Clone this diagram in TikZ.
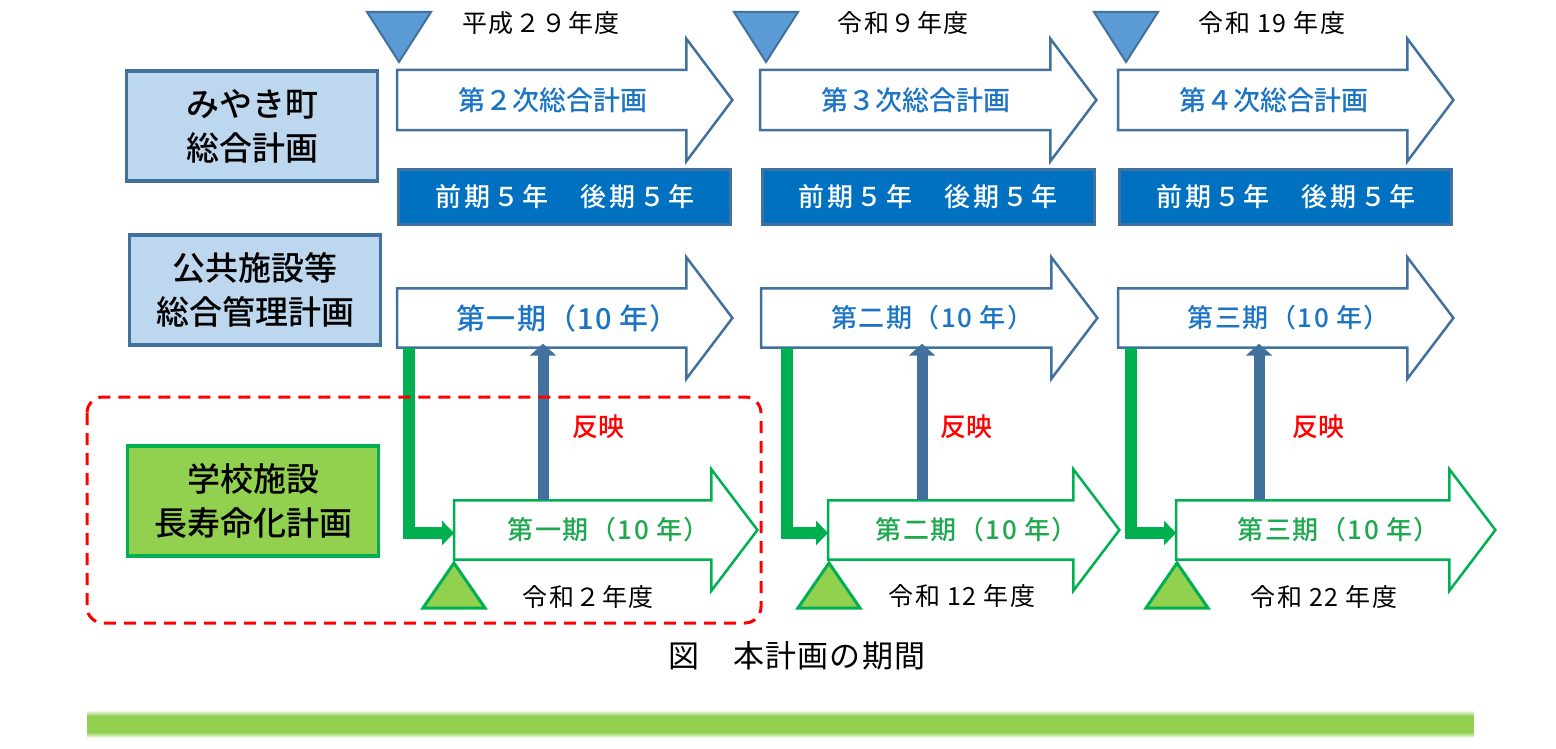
\documentclass[tikz,border=0pt]{standalone}
\usepackage{fontspec}
\setmainfont{Noto Sans CJK JP}
\newfontfamily\cjkmedium{Noto Sans CJK JP Medium}
\usetikzlibrary{positioning,arrows.meta}

\definecolor{lineblue}{HTML}{41719C}
\definecolor{textblue}{HTML}{1C74C4}
\definecolor{darkblue}{HTML}{0070C0}
\definecolor{paleblue}{HTML}{BDD7EE}
\definecolor{markblue}{HTML}{5B9BD5}
\definecolor{leafgreen}{HTML}{92D050}
\definecolor{deepgreen}{HTML}{00B050}
\definecolor{textgreen}{HTML}{1FA84F}

% outline of a block arrow round a named node
\newcommand{\periodarrow}[2]{\draw[#2] (#1.south west) -- (#1.north west) -- ([xshift=-46pt]#1.north east) -- ([xshift=-46pt,yshift=31pt]#1.north east) -- (#1.east) -- ([xshift=-46pt,yshift=-31pt]#1.south east) -- ([xshift=-46pt]#1.south east) -- cycle;}

\begin{document}
\begin{tikzpicture}[x=1pt, y=-1pt,
    heading/.style = {draw=lineblue, line width=3.5pt, fill=paleblue, minimum width=251pt, minimum height=110pt, align=center, font=\cjkmedium\fontsize{33}{44}\selectfont},
    schoolbox/.style = {heading, draw=deepgreen, fill=leafgreen},
    arrowtext/.style = {anchor=west, inner sep=0pt, text=textblue},
    plan/.style = {arrowtext, minimum height=60pt, font=\cjkmedium\fontsize{27}{30}\selectfont, execute at begin node={\kern-24pt}},
    phase/.style = {arrowtext, minimum height=59pt, font=\cjkmedium\fontsize{26}{30}\selectfont\addfontfeature{LetterSpace=6}, execute at begin node={\kern6pt}},
    termbox/.style = {draw=lineblue, line width=3pt, fill=darkblue, text=white, minimum width=332pt, minimum height=55pt, font=\cjkmedium\fontsize{26}{30}\selectfont\addfontfeature{LetterSpace=12}},
    year/.style = {font=\fontsize{25}{30}\selectfont\addfontfeature{LetterSpace=6}},
    mirror/.style = {text=red, font=\cjkmedium\fontsize{26}{30}\selectfont},
    caption/.style = {font=\fontsize{31}{36}\selectfont\addfontfeature{LetterSpace=4}},
    blueline/.style = {draw=lineblue, line width=2.5pt},
    greenline/.style = {draw=deepgreen, line width=2.5pt},
    launch/.style = {draw=deepgreen, line width=12pt, -{Triangle[length=12pt,width=24pt]}},
    feedback/.style = {draw=lineblue, line width=11pt, -{Triangle[length=12pt,width=26pt]}},
    downmark/.style = {fill=markblue, draw=lineblue, line width=2pt},
    upmark/.style = {fill=leafgreen, draw=deepgreen, line width=3pt}]
    \useasboundingbox (0,0) rectangle (1556,749);

    % plans on the left
    \node[heading] (town) at (252,126) {みやき町\\総合計画};
    \node[heading] (facility) at (255,290) {公共施設等\\総合管理計画};
    \node[schoolbox] (school) at (253,501) {学校施設\\長寿命化計画};

    % comprehensive plan
    \node[plan, minimum width=335pt] (plan2) at (397,100) {第２次総合計画};
    \node[plan, minimum width=336pt] (plan3) at (760,100) {第３次総合計画};
    \node[plan, minimum width=335pt] (plan4) at (1118,100) {第４次総合計画};
    \periodarrow{plan2}{blueline}
    \periodarrow{plan3}{blueline}
    \periodarrow{plan4}{blueline}

    \node[termbox, below=37.5pt of plan2] (term2) {前期５年　後期５年};
    \node[termbox, below=37.5pt of plan3] (term3) {前期５年　後期５年};
    \node[termbox, below=37.5pt of plan4] (term4) {前期５年　後期５年};

    % management plan
    \node[phase, minimum width=335pt, font=\cjkmedium\fontsize{29}{32}\selectfont\addfontfeature{LetterSpace=4}] (mgmt1) at (397,318) {第一期（10 年）};
    \node[phase, minimum width=336pt] (mgmt2) at (761,318) {第二期（10 年）};
    \node[phase, minimum width=335pt] (mgmt3) at (1118,318) {第三期（10 年）};
    \periodarrow{mgmt1}{blueline}
    \periodarrow{mgmt2}{blueline}
    \periodarrow{mgmt3}{blueline}

    % school plan
    \node[phase, text=textgreen, minimum width=303pt] (life1) at (454,530) {第一期（10 年）};
    \node[phase, text=textgreen, minimum width=291pt] (life2) at (828,530) {第二期（10 年）};
    \node[phase, text=textgreen, minimum width=319pt] (life3) at (1176,530) {第三期（10 年）};
    \periodarrow{life1}{greenline}
    \periodarrow{life2}{greenline}
    \periodarrow{life3}{greenline}

    % year marks
    \draw[downmark] (367,12) -- (431,12) -- (399,62) -- cycle;
    \draw[downmark] (734,12) -- (798,12) -- (766,62) -- cycle;
    \draw[downmark] (1094,12) -- (1158,12) -- (1126,62) -- cycle;
    \draw[upmark] (454,563) -- (485,608) -- (423,608) -- cycle;
    \draw[upmark] (829,563) -- (860,608) -- (798,608) -- cycle;
    \draw[upmark] (1177,563) -- (1208,608) -- (1146,608) -- cycle;

    \node[year] (h29) at (541,23) {平成２９年度};
    \node[year] (r9) at (903,23) {令和９年度};
    \node[year] (r19) at (1272,23) {令和 19 年度};
    \node[year] (r2) at (588,597) {令和２年度};
    \node[year] (r12) at (962,596) {令和 12 年度};
    \node[year] (r22) at (1324,597) {令和 22 年度};

    % links between the plans
    \draw[launch] ([xshift=12pt]mgmt1.south west) |- ([yshift=-3pt]life1.west);
    \draw[launch] ([xshift=26pt]mgmt2.south west) |- ([yshift=-3pt]life2.west);
    \draw[launch] ([xshift=13pt]mgmt3.south west) |- ([yshift=-3pt]life3.west);
    \draw[feedback] ([xshift=89pt]life1.north west) -- ([xshift=146pt,yshift=4pt]mgmt1.south west);
    \draw[feedback] ([xshift=94pt]life2.north west) -- ([xshift=161pt,yshift=4pt]mgmt2.south west);
    \draw[feedback] ([xshift=83pt]life3.north west) -- ([xshift=141pt,yshift=4pt]mgmt3.south west);

    \node[mirror] (mirror1) at (598,427) {反映};
    \node[mirror] (mirror2) at (966,427) {反映};
    \node[mirror] (mirror3) at (1318,427) {反映};

    % this plan
    \draw[red, line width=3pt, dash pattern=on 12pt off 8pt, rounded corners=16pt] (87,397) rectangle (761,623);

    \node[caption] (title) at (797,656) {図　本計画の期間};

    % green band
    \fill[leafgreen] (87,716) rectangle (1474,732);
    \shade[top color=white, bottom color=leafgreen] (87,710) rectangle (1474,716);
    \shade[top color=leafgreen, bottom color=white] (87,732) rectangle (1474,738);
\end{tikzpicture}
\end{document}
